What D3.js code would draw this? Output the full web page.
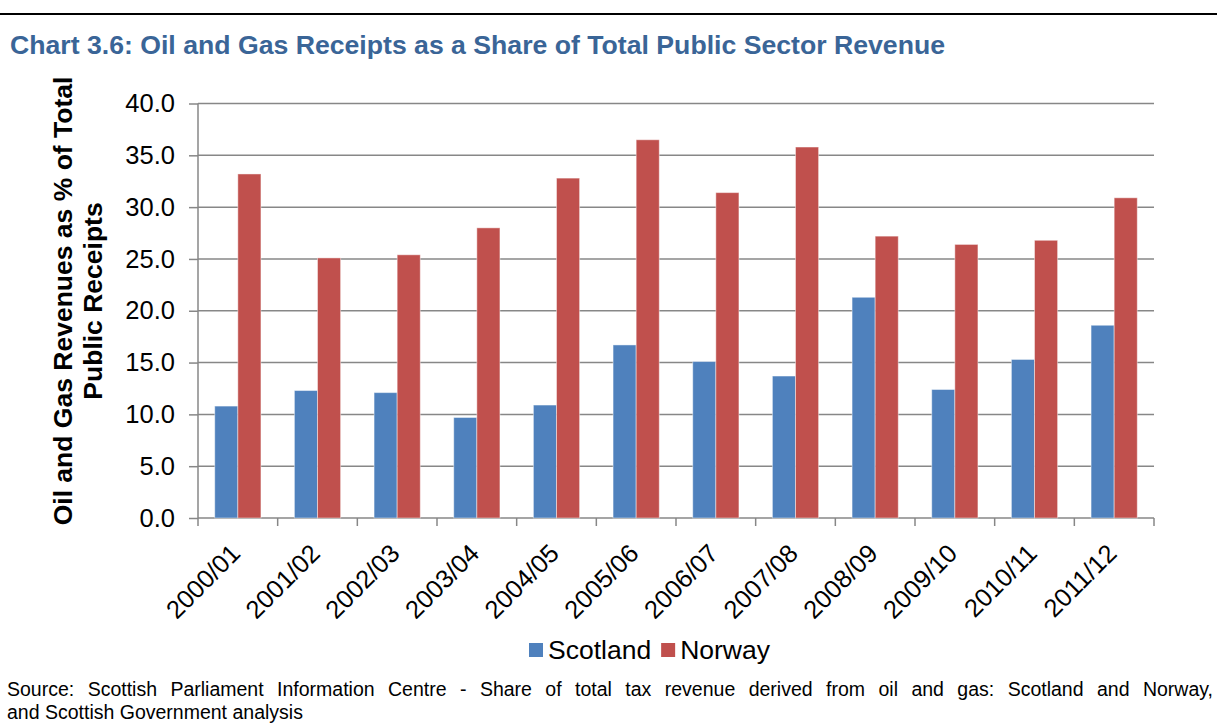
<!DOCTYPE html>
<html>
<head>
<meta charset="utf-8">
<script src="https://cdn.jsdelivr.net/npm/d3@7"></script>
<style>
  body { margin: 0; background: #fff; }
  text { font-family: "Liberation Sans", Arial, sans-serif; }
</style>
</head>
<body>
<div id="chart"></div>
<script>
// data
var years = ["2000/01","2001/02","2002/03","2003/04","2004/05","2005/06",
             "2006/07","2007/08","2008/09","2009/10","2010/11","2011/12"];
var scotland = [10.8, 12.3, 12.1, 9.7, 10.9, 16.7, 15.1, 13.7, 21.3, 12.4, 15.3, 18.6];
var norway   = [33.2, 25.1, 25.4, 28.0, 32.8, 36.5, 31.4, 35.8, 27.2, 26.4, 26.8, 30.9];
var seriesNames = ["Scotland", "Norway"];
var seriesColors = ["#4F81BD", "#C0504D"];
var yTicks = [0, 5, 10, 15, 20, 25, 30, 35, 40];

var W = 1217, H = 724;
var margin = {top: 103.5, right: 63, bottom: 206, left: 198};
var width = W - margin.left - margin.right,
    height = H - margin.top - margin.bottom;

var svg = d3.select("#chart").append("svg")
    .attr("width", W)
    .attr("height", H);

// black rule at the top of the page
svg.append("rect")
    .attr("x", 0).attr("y", 13)
    .attr("width", W).attr("height", 2)
    .attr("fill", "#000");

// title
var title = svg.append("text")
    .attr("x", 10).attr("y", 54)
    .attr("fill", "#3A6597")
    .style("font-size", "26px")
    .style("font-weight", "bold")
    .text("Chart 3.6: Oil and Gas Receipts as a Share of Total Public Sector Revenue");
title.attr("textLength", 935).attr("lengthAdjust", "spacingAndGlyphs");

var g = svg.append("g")
    .attr("transform", "translate(" + margin.left + "," + margin.top + ")");

var x0 = d3.scaleBand().domain(years).range([0, width]).paddingInner(0.42).paddingOuter(0.21);
var x1 = d3.scaleBand().domain(seriesNames).range([0, x0.bandwidth()]);
var y = d3.scaleLinear().domain([0, 40]).range([height, 0]);

// gridlines
g.append("g").selectAll("line")
    .data(yTicks)
    .enter().append("line")
    .attr("x1", 0).attr("x2", width)
    .attr("y1", function(d) { return y(d); })
    .attr("y2", function(d) { return y(d); })
    .attr("stroke", "#878787")
    .attr("stroke-width", 1.5);

// y axis
var yAxis = g.append("g")
    .call(d3.axisLeft(y).tickValues(yTicks).tickSize(9).tickPadding(14)
        .tickFormat(d3.format(".1f")));
yAxis.selectAll("line, path").attr("stroke", "#878787").attr("stroke-width", 1.5);
yAxis.select("path").attr("d", "M0,0V" + height);
yAxis.selectAll("text")
    .attr("fill", "#000")
    .style("font-size", "25.5px")
    .style("font-family", "Liberation Sans, Arial, sans-serif");

// x axis: ticks at category boundaries
var bounds = d3.range(years.length + 1).map(function(i) { return i * width / years.length; });
g.append("g").selectAll("line")
    .data(bounds)
    .enter().append("line")
    .attr("x1", function(d) { return d; }).attr("x2", function(d) { return d; })
    .attr("y1", height).attr("y2", height + 8)
    .attr("stroke", "#878787").attr("stroke-width", 1.5);

// bars
var data = years.map(function(yr, i) {
    return {year: yr, values: [scotland[i], norway[i]]};
});
var groups = g.append("g").selectAll("g")
    .data(data)
    .enter().append("g")
    .attr("transform", function(d) { return "translate(" + x0(d.year) + ",0)"; });
groups.selectAll("rect")
    .data(function(d) { return d.values.map(function(v, j) { return {name: seriesNames[j], value: v, j: j}; }); })
    .enter().append("rect")
    .attr("x", function(d) { return x1(d.name); })
    .attr("y", function(d) { return y(d.value); })
    .attr("width", x1.bandwidth())
    .attr("height", function(d) { return height - y(d.value); })
    .attr("fill", function(d) { return seriesColors[d.j]; })
    .attr("stroke", "rgba(255,255,255,0.45)")
    .attr("stroke-width", 1);

// x labels, rotated
g.append("g").selectAll("text")
    .data(years)
    .enter().append("text")
    .attr("transform", function(d) {
        return "translate(" + (x0(d) + x0.bandwidth() / 2 + 4) + "," + (height + 37) + ") rotate(-45)";
    })
    .attr("text-anchor", "end")
    .style("font-size", "25.5px")
    .text(function(d) { return d; });

// y axis title
var yt = svg.append("text")
    .attr("transform", "translate(72,301) rotate(-90)")
    .attr("text-anchor", "middle")
    .style("font-size", "26.5px")
    .style("font-weight", "bold");
yt.append("tspan").attr("x", 0).attr("y", 0).text("Oil and Gas Revenues as % of Total");
yt.append("tspan").attr("x", 0).attr("y", 30).text("Public Receipts");

// legend
var legend = svg.append("g").attr("transform", "translate(529,643)");
var lx = 0;
seriesNames.forEach(function(name, i) {
    legend.append("rect")
        .attr("x", lx).attr("y", 0)
        .attr("width", 14).attr("height", 14)
        .attr("fill", seriesColors[i]);
    var t = legend.append("text")
        .attr("x", lx + 19).attr("y", 16)
        .style("font-size", "26.5px")
        .text(name);
    lx += 19 + t.node().getComputedTextLength() + 10;
});

// source note, first line justified across the page
var src = svg.append("text")
    .attr("x", 7).attr("y", 696)
    .style("font-size", "19.5px")
    .text("Source: Scottish Parliament Information Centre - Share of total tax revenue derived from oil and gas: Scotland and Norway,");
var natural = src.node().getComputedTextLength();
var spaces = src.text().split(" ").length - 1;
src.style("word-spacing", ((1213 - 7 - natural) / spaces) + "px");
svg.append("text")
    .attr("x", 7).attr("y", 719)
    .style("font-size", "19.5px")
    .text("and Scottish Government analysis");
</script>
</body>
</html>
